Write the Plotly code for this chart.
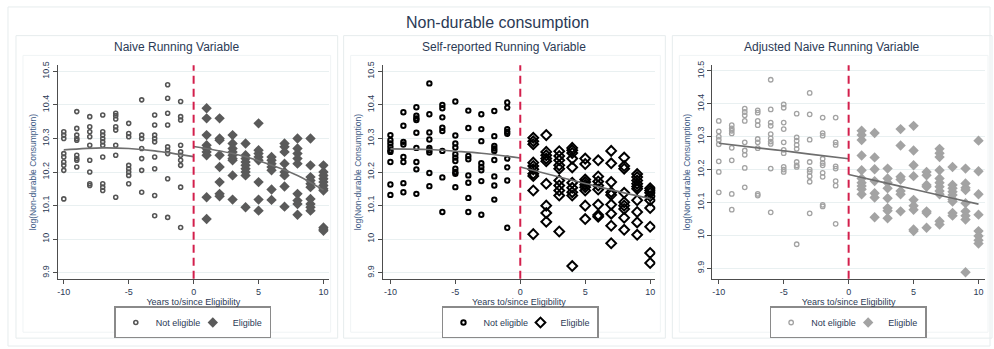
import plotly.graph_objects as go

# ---------------------------------------------------------------------------
# Data: log(non-durable consumption) by years to/since eligibility
# ---------------------------------------------------------------------------
YEARS_BEFORE = list(range(-10, 0))
YEARS_AFTER = list(range(1, 11))
CUTOFF = 0

# Naive running variable
naive_not = [
    [10.32, 10.31, 10.30, 10.255, 10.245, 10.23, 10.22, 10.205, 10.12],
    [10.38, 10.33, 10.31, 10.30, 10.295, 10.25, 10.24, 10.235, 10.215],
    [10.365, 10.335, 10.32, 10.305, 10.28, 10.235, 10.2, 10.165, 10.16],
    [10.37, 10.32, 10.31, 10.30, 10.29, 10.28, 10.245, 10.165, 10.155, 10.145],
    [10.375, 10.368, 10.358, 10.335, 10.325, 10.28, 10.25, 10.125],
    [10.345, 10.315, 10.305, 10.22, 10.21, 10.2, 10.19, 10.165],
    [10.415, 10.31, 10.30, 10.27, 10.24, 10.205, 10.14],
    [10.37, 10.34, 10.31, 10.30, 10.29, 10.245, 10.21, 10.13, 10.07],
    [10.46, 10.42, 10.375, 10.34, 10.275, 10.265, 10.255, 10.18, 10.065],
    [10.41, 10.365, 10.355, 10.28, 10.26, 10.25, 10.235, 10.22, 10.155, 10.035],
]
naive_elig = [
    [10.39, 10.36, 10.31, 10.28, 10.27, 10.26, 10.25, 10.125, 10.06],
    [10.36, 10.30, 10.295, 10.25, 10.215, 10.17, 10.135, 10.128],
    [10.31, 10.285, 10.27, 10.26, 10.25, 10.24, 10.235, 10.19, 10.118],
    [10.285, 10.25, 10.24, 10.23, 10.22, 10.21, 10.2, 10.19, 10.095],
    [10.345, 10.265, 10.255, 10.245, 10.235, 10.17, 10.118, 10.085],
    [10.245, 10.235, 10.225, 10.215, 10.205, 10.148, 10.117],
    [10.285, 10.275, 10.26, 10.225, 10.2, 10.19, 10.157, 10.097],
    [10.30, 10.27, 10.255, 10.24, 10.225, 10.135, 10.115, 10.105, 10.073],
    [10.30, 10.22, 10.185, 10.175, 10.165, 10.155, 10.12, 10.105, 10.095, 10.085],
    [10.22, 10.2, 10.19, 10.18, 10.17, 10.16, 10.15, 10.145, 10.035, 10.03, 10.025],
]

# Self-reported running variable
self_not = [
    [10.31, 10.295, 10.285, 10.275, 10.265, 10.26, 10.23, 10.163, 10.132],
    [10.378, 10.338, 10.29, 10.282, 10.245, 10.23, 10.167, 10.14],
    [10.393, 10.368, 10.36, 10.355, 10.317, 10.272, 10.23, 10.208, 10.135],
    [10.464, 10.372, 10.318, 10.297, 10.272, 10.265, 10.258, 10.197, 10.158],
    [10.4, 10.39, 10.363, 10.332, 10.322, 10.263, 10.184, 10.081],
    [10.41, 10.309, 10.285, 10.273, 10.253, 10.243, 10.233, 10.21, 10.2, 10.195, 10.155],
    [10.383, 10.331, 10.248, 10.238, 10.19, 10.168, 10.123, 10.081],
    [10.372, 10.328, 10.292, 10.226, 10.215, 10.205, 10.173, 10.073],
    [10.382, 10.307, 10.278, 10.27, 10.263, 10.236, 10.187, 10.16, 10.118],
    [10.407, 10.392, 10.328, 10.32, 10.314, 10.24, 10.214, 10.175, 10.034],
]
self_elig = [
    [10.302, 10.292, 10.283, 10.228, 10.218, 10.208, 10.195, 10.188, 10.145, 10.015],
    [10.31, 10.26, 10.25, 10.24, 10.232, 10.165, 10.1, 10.078, 10.052],
    [10.262, 10.248, 10.235, 10.22, 10.21, 10.175, 10.16, 10.145, 10.13, 10.023],
    [10.272, 10.265, 10.257, 10.24, 10.214, 10.168, 10.153, 10.14, 10.13, 9.92],
    [10.24, 10.224, 10.178, 10.17, 10.162, 10.155, 10.145, 10.1, 10.06],
    [10.235, 10.187, 10.172, 10.16, 10.148, 10.103, 10.072, 10.067],
    [10.263, 10.226, 10.17, 10.14, 10.132, 10.103, 10.076, 10.04, 9.988],
    [10.243, 10.218, 10.21, 10.138, 10.11, 10.1, 10.09, 10.064, 10.028],
    [10.194, 10.185, 10.175, 10.165, 10.157, 10.15, 10.116, 10.081, 10.05, 10.013],
    [10.152, 10.145, 10.138, 10.128, 10.116, 10.093, 10.037, 9.959, 9.929],
]

# Adjusted naive running variable
adj_not = [
    [10.348, 10.316, 10.3, 10.29, 10.277, 10.225, 10.193, 10.131],
    [10.335, 10.325, 10.318, 10.31, 10.266, 10.228, 10.126, 10.078],
    [10.385, 10.375, 10.365, 10.348, 10.283, 10.258, 10.245, 10.205, 10.146],
    [10.38, 10.373, 10.348, 10.335, 10.293, 10.283, 10.265, 10.126, 10.121],
    [10.473, 10.383, 10.343, 10.333, 10.308, 10.295, 10.285, 10.278, 10.203, 10.07],
    [10.398, 10.388, 10.343, 10.323, 10.283, 10.26, 10.25, 10.208, 10.2, 10.193],
    [10.37, 10.298, 10.288, 10.275, 10.263, 10.223, 10.213, 10.208, 9.973],
    [10.433, 10.368, 10.291, 10.223, 10.2, 10.193, 10.18, 10.163, 10.067],
    [10.358, 10.311, 10.303, 10.233, 10.22, 10.213, 10.19, 10.178, 10.093, 10.088],
    [10.358, 10.283, 10.275, 10.21, 10.203, 10.165, 10.151, 10.035],
]
adj_elig = [
    [10.318, 10.305, 10.29, 10.243, 10.198, 10.173, 10.16, 10.15, 10.14, 10.125],
    [10.311, 10.237, 10.201, 10.165, 10.128, 10.115, 10.055],
    [10.203, 10.173, 10.16, 10.143, 10.113, 10.083, 10.075, 10.052],
    [10.323, 10.273, 10.178, 10.17, 10.135, 10.125, 10.073],
    [10.333, 10.258, 10.213, 10.18, 10.108, 10.09, 10.078, 10.018, 10.013],
    [10.193, 10.183, 10.153, 10.148, 10.073, 10.068, 10.023],
    [10.263, 10.25, 10.238, 10.198, 10.173, 10.16, 10.148, 10.135, 10.125, 10.043, 10.033],
    [10.208, 10.153, 10.143, 10.133, 10.123, 10.11, 10.103, 10.068, 10.06],
    [10.203, 10.158, 10.145, 10.138, 10.098, 10.073, 10.06, 10.048, 9.888],
    [10.288, 10.195, 10.125, 10.063, 10.013, 9.998, 9.985, 9.975],
]

# Fitted values on each side of the cutoff
fit_x_before = [-10, -7, -5, -3, 0]
fit_x_after = [0, 3, 5, 8, 10]
naive_fit_before = [10.266, 10.272, 10.270, 10.263, 10.246]
naive_fit_after = [10.276, 10.255, 10.234, 10.190, 10.146]
self_fit_before = [10.269, 10.267, 10.262, 10.256, 10.242]
self_fit_after = [10.215, 10.185, 10.166, 10.138, 10.121]
adj_fit_before = [10.280, 10.266, 10.257, 10.247, 10.233]
adj_fit_after = [10.185, 10.158, 10.140, 10.113, 10.095]

Y_TICKS = [9.9, 10.0, 10.1, 10.2, 10.3, 10.4, 10.5]
Y_TICK_TEXT = ["9.9", "10", "10.1", "10.2", "10.3", "10.4", "10.5"]
X_TICKS = [-10, -5, 0, 5, 10]
X_TICK_TEXT = ["-10", "-5", "0", "5", "10"]

PANEL_TITLES = ["Naive Running Variable", "Self-reported Running Variable",
                "Adjusted Naive Running Variable"]
MAIN_TITLE = "Non-durable consumption"
X_TITLE = "Years to/since Eligibility"
Y_TITLE = "log(Non-durable Consumption)"
LEGEND_LABELS = ["Not eligible", "Eligible"]

# ---------------------------------------------------------------------------
# Layout helpers (pixel geometry of a 994 x 349 canvas)
# ---------------------------------------------------------------------------
W, H = 994, 349
FONT = "Liberation Sans, Arial, sans-serif"
TEXT = "#2b3a55"
AXIS = "#4d4d4d"
GRID = "#e9f0f1"
FRAME = "#e6eced"
RED = "#d31f4c"


def px(x):
    return x / W


def py(y):
    return 1 - y / H


def flatten(years, groups):
    xs, ys = [], []
    for yr, vals in zip(years, groups):
        for v in vals:
            xs.append(yr)
            ys.append(v)
    return xs, ys


panels = [
    dict(nots=naive_not, elig=naive_elig, fb=naive_fit_before, fa=naive_fit_after,
         xdom=(57, 328), xr=(-10.45, 10.4), yr=(9.882, 10.518),
         box=(15, 337), inner=(22, 330), legx=192,
         not_m=dict(symbol="circle-open", size=4, color="#555555", line=dict(width=1.6, color="#555555")),
         elig_m=dict(symbol="diamond", size=8, color="#5a5a5a")),
    dict(nots=self_not, elig=self_elig, fb=self_fit_before, fa=self_fit_after,
         xdom=(382, 655), xr=(-10.6, 10.4), yr=(9.882, 10.518),
         box=(343, 665), inner=(350, 660), legx=520,
         not_m=dict(symbol="circle-open", size=4.4, color="#000000", line=dict(width=2, color="#000000")),
         elig_m=dict(symbol="diamond-open", size=7.5, color="#000000", line=dict(width=2, color="#000000"))),
    dict(nots=adj_not, elig=adj_elig, fb=adj_fit_before, fa=adj_fit_after,
         xdom=(712, 985), xr=(-10.5, 10.5), yr=(9.868, 10.517),
         box=(672, 992), inner=(679, 988), legx=848,
         not_m=dict(symbol="circle-open", size=4.5, color="#a3a3a3", line=dict(width=1.3, color="#a3a3a3")),
         elig_m=dict(symbol="diamond", size=8, color="#a3a3a3")),
]

fig = go.Figure()
shapes = []
annotations = []

# outer graph frame
shapes.append(dict(type="rect", xref="paper", yref="paper",
                   x0=px(7), x1=px(990), y0=py(346), y1=py(3),
                   line=dict(color=FRAME, width=1), layer="below"))

for i, p in enumerate(panels, start=1):
    xa = "x" if i == 1 else f"x{i}"
    ya = "y" if i == 1 else f"y{i}"
    leg = "legend" if i == 1 else f"legend{i}"

    xn, yn = flatten(YEARS_BEFORE, p["nots"])
    xe, ye = flatten(YEARS_AFTER, p["elig"])

    fig.add_trace(go.Scatter(x=xn, y=yn, mode="markers", name=LEGEND_LABELS[0],
                             marker=p["not_m"], xaxis=xa, yaxis=ya, legend=leg))
    fig.add_trace(go.Scatter(x=xe, y=ye, mode="markers", name=LEGEND_LABELS[1],
                             marker=p["elig_m"], xaxis=xa, yaxis=ya, legend=leg))
    for fx, fy in ((fit_x_before, p["fb"]), (fit_x_after, p["fa"])):
        fig.add_trace(go.Scatter(x=fx, y=fy, mode="lines", showlegend=False,
                                 line=dict(color="#6e6e6e", width=1.6, shape="spline"),
                                 xaxis=xa, yaxis=ya))

    axis_common = dict(showline=True, linecolor=AXIS, linewidth=1, ticks="outside",
                       ticklen=4, tickcolor=AXIS, zeroline=False,
                       tickfont=dict(family=FONT, size=9, color=TEXT))
    fig.layout[f"xaxis{'' if i == 1 else i}"] = dict(
        domain=[px(p["xdom"][0]), px(p["xdom"][1])], range=list(p["xr"]),
        anchor=ya, tickvals=X_TICKS, ticktext=X_TICK_TEXT, showgrid=False,
        title=dict(text=X_TITLE, font=dict(family=FONT, size=9, color=TEXT), standoff=0),
        **axis_common)
    fig.layout[f"yaxis{'' if i == 1 else i}"] = dict(
        domain=[py(278), py(62)], range=list(p["yr"]), anchor=xa,
        tickvals=Y_TICKS, ticktext=Y_TICK_TEXT, tickangle=-90,
        showgrid=True, gridcolor=GRID, gridwidth=1,
        title=dict(text=Y_TITLE, font=dict(family=FONT, size=8.5, color="#3d5a85"), standoff=3),
        **axis_common)

    # eligibility cutoff
    shapes.append(dict(type="line", xref=xa, yref=f"{ya} domain",
                       x0=CUTOFF, x1=CUTOFF, y0=0, y1=1,
                       line=dict(color=RED, width=2, dash="8px,5px")))
    # panel frames
    shapes.append(dict(type="rect", xref="paper", yref="paper",
                       x0=px(p["box"][0]), x1=px(p["box"][1]), y0=py(338), y1=py(32),
                       line=dict(color=FRAME, width=1), layer="below"))
    shapes.append(dict(type="rect", xref="paper", yref="paper",
                       x0=px(p["inner"][0]), x1=px(p["inner"][1]), y0=py(332), y1=py(52),
                       line=dict(color="#f0f4f5", width=1), layer="below"))
    annotations.append(dict(text=PANEL_TITLES[i - 1], xref="paper", yref="paper",
                            x=px((p["box"][0] + p["box"][1]) / 2), y=py(44),
                            xanchor="center", yanchor="middle", showarrow=False,
                            font=dict(family=FONT, size=12, color=TEXT)))
    fig.layout[leg] = dict(orientation="h", x=px(p["legx"]), y=py(306),
                           xanchor="center", yanchor="top",
                           bgcolor="white", bordercolor="#8a8a8a", borderwidth=1.5,
                           font=dict(family=FONT, size=9, color=TEXT),
                           itemwidth=30, tracegroupgap=0,
                           entrywidth=32, entrywidthmode="pixels")

annotations.append(dict(text=MAIN_TITLE, xref="paper", yref="paper",
                        x=0.5, y=py(19), xanchor="center", yanchor="middle",
                        showarrow=False, font=dict(family=FONT, size=16, color=TEXT)))

fig.update_layout(width=W, height=H, margin=dict(l=0, r=0, t=0, b=0),
                  paper_bgcolor="white", plot_bgcolor="white",
                  shapes=shapes, annotations=annotations)

fig.write_html("out.html")
